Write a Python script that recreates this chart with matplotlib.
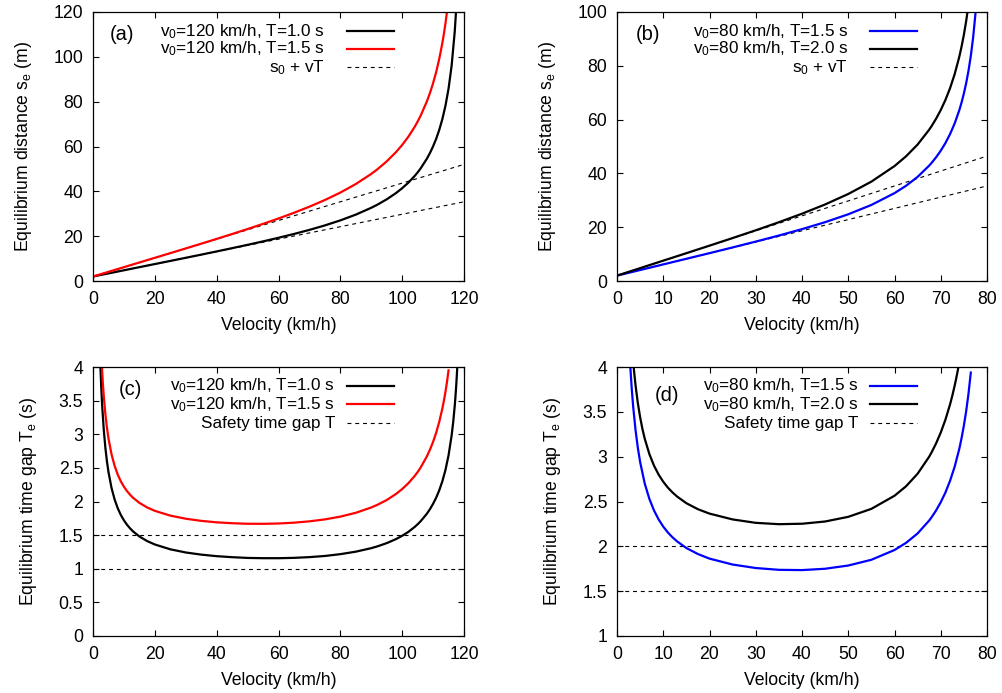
import matplotlib
matplotlib.use('Agg')
import matplotlib.pyplot as plt

plt.rcParams['font.family'] = ['Liberation Sans', 'DejaVu Sans']
plt.rcParams['mathtext.default'] = 'regular'
plt.rcParams['font.size'] = 12.7

# (a) v0=120 km/h, equilibrium distance (m)
v_a1 = [0, 5, 10, 15, 20, 25, 30, 35, 40, 45, 50, 55, 60, 65, 70, 75, 80, 85, 90,
        92, 95, 98, 100, 102, 104, 105, 106, 108, 109, 110, 111, 112, 113, 114, 115, 116, 117, 117.5]
s_a1 = [2.0, 3.39, 4.78, 6.17, 7.56, 8.95, 10.35, 11.76, 13.19, 14.65, 16.13, 17.67, 19.28, 20.98,
        22.80, 24.80, 27.04, 29.61, 32.66,
        34.06, 36.43, 39.22, 41.39, 43.87, 46.79, 48.45, 50.28, 54.57, 57.13, 60.06, 63.43, 67.42,
        72.23, 78.17, 85.79, 96.10, 111.17, 121.9]
v_a2 = [0, 5, 10, 15, 20, 25, 30, 35, 40, 45, 50, 55, 60, 65, 70, 75, 80, 85, 90,
        92, 95, 98, 100, 102, 104, 105, 106, 108, 109, 110, 111, 112, 113, 113.5, 114, 114.5]
s_a2 = [2.0, 4.08, 6.17, 8.25, 10.34, 12.43, 14.53, 16.64, 18.78, 20.96, 23.18, 25.49, 27.89, 30.42,
        33.15, 36.12, 39.44, 43.26, 47.77,
        49.85, 53.36, 57.49, 60.69, 64.36, 68.67, 71.12, 73.82, 80.15, 83.92, 88.23, 93.22, 99.11,
        106.18, 110.31, 114.93, 120.17]
lin_a_v = [0, 120]
lin_a1 = [2.0, 35.33]
lin_a2 = [2.0, 52.0]

# (b) v0=80 km/h
v_b1 = [0, 5, 10, 15, 20, 25, 30, 35, 40, 45, 50, 55, 60, 62.5, 65, 67.5, 68, 69, 70, 71, 72, 73,
        74, 74.5, 75, 75.5, 76, 76.5, 77, 77.5, 78]
s_b1 = [2.0, 4.08, 6.17, 8.26, 10.35, 12.48, 14.65, 16.90, 19.28, 21.87, 24.80, 28.27, 32.66, 35.40,
        38.72, 42.90, 43.87, 46.01, 48.45, 51.26, 54.57, 58.54, 63.43, 66.36, 69.71, 73.59, 78.17,
        83.69, 90.52, 99.30, 111.17]
v_b2 = [0, 5, 10, 15, 20, 25, 30, 35, 40, 45, 50, 55, 60, 62.5, 65, 67.5, 68, 69, 70, 71, 72, 73,
        74, 74.5, 75, 75.5, 76]
s_b2 = [2.0, 4.78, 7.56, 10.34, 13.14, 15.97, 18.85, 21.85, 25.02, 28.46, 32.35, 36.94, 42.73, 46.36,
        50.74, 56.25, 57.53, 60.35, 63.56, 67.27, 71.62, 76.85, 83.29, 87.14, 91.55, 96.65, 102.67]
lin_b_v = [0, 80]
lin_b1 = [2.0, 35.33]
lin_b2 = [2.0, 46.44]

# (c) v0=120 km/h, equilibrium time gap (s)
v_c1 = [2.4, 2.7, 3, 3.5, 4, 4.5, 5, 6, 7, 8, 9, 10, 11, 12, 13, 15, 17.5, 20, 25, 30, 35, 40, 45,
        50, 55, 60, 65, 70, 75, 80, 85, 90, 92, 95, 98, 100, 102, 104, 105, 106, 108, 109, 110, 111,
        112, 113, 114, 115, 116, 116.5, 117, 117.2, 117.5, 117.8]
t_c1 = [4.0, 3.667, 3.4, 3.057, 2.8, 2.6, 2.44, 2.2, 2.029, 1.9, 1.8, 1.72, 1.6545, 1.6, 1.5538,
        1.48, 1.4117, 1.361, 1.289, 1.242, 1.210, 1.187, 1.172, 1.161, 1.157, 1.157, 1.162, 1.173,
        1.190, 1.217, 1.254, 1.306, 1.333, 1.381, 1.441, 1.490, 1.548, 1.620, 1.661, 1.708, 1.819,
        1.887, 1.966, 2.057, 2.167, 2.301, 2.469, 2.686, 2.982, 3.178, 3.421, 3.536, 3.735, 3.973]
v_c2 = [2.88, 3.2, 3.5, 4, 4.5, 5, 6, 7, 8, 9, 10, 11, 12, 13, 15, 17.5, 20, 25, 30, 35, 40, 45, 50,
        55, 60, 65, 70, 75, 80, 85, 90, 92, 95, 98, 100, 102, 104, 105, 106, 108, 109, 110, 111, 112,
        113, 113.5, 114, 114.5, 115]
t_c2 = [4.0, 3.75, 3.557, 3.3, 3.1, 2.94, 2.7, 2.529, 2.4, 2.3, 2.22, 2.1545, 2.1, 2.0538, 1.98,
        1.912, 1.861, 1.790, 1.744, 1.712, 1.690, 1.677, 1.669, 1.668, 1.673, 1.685, 1.705, 1.734,
        1.775, 1.832, 1.911, 1.951, 2.022, 2.112, 2.185, 2.272, 2.377, 2.438, 2.507, 2.672, 2.772,
        2.887, 3.023, 3.186, 3.383, 3.499, 3.629, 3.778, 3.950]
T_c = [1.0, 1.5]

# (d) v0=80 km/h
v_d1 = [2.88, 3.2, 3.5, 4, 4.5, 5, 6, 7, 8, 9, 10, 11, 12, 13, 15, 17.5, 20, 25, 30, 35, 40, 45, 50,
        55, 60, 62.5, 65, 67.5, 68, 69, 70, 71, 72, 73, 74, 74.5, 75, 75.5, 76, 76.5]
t_d1 = [4.0, 3.75, 3.557, 3.3, 3.1, 2.94, 2.7, 2.529, 2.4, 2.3, 2.22, 2.1545, 2.1005, 2.055, 1.981,
        1.914, 1.863, 1.797, 1.758, 1.738, 1.735, 1.750, 1.786, 1.850, 1.959, 2.039, 2.144, 2.288,
        2.323, 2.401, 2.492, 2.599, 2.729, 2.887, 3.085, 3.207, 3.346, 3.509, 3.703, 3.938]
v_d2 = [3.6, 4, 4.5, 5, 5.5, 6, 7, 8, 9, 10, 11, 12, 13, 15, 17.5, 20, 25, 30, 35, 40, 45, 50, 55,
        60, 62.5, 65, 67.5, 68, 69, 70, 71, 72, 72.5, 73, 73.4, 73.8]
t_d2 = [4.0, 3.8, 3.6, 3.44, 3.309, 3.2, 3.029, 2.9, 2.8, 2.72, 2.655, 2.601, 2.555, 2.481, 2.414,
        2.365, 2.300, 2.262, 2.247, 2.252, 2.277, 2.329, 2.418, 2.564, 2.670, 2.810, 3.0, 3.046,
        3.149, 3.269, 3.411, 3.581, 3.680, 3.790, 3.887, 3.994]
T_d = [1.5, 2.0]

fig = plt.figure(figsize=(10.02, 6.93), dpi=100)
W, H = 1002, 693
FS = 12.7
LFS = 12.3


def make_ax(l, r, t, b):
    ax = fig.add_axes([l / W, 1 - b / H, (r - l) / W, (b - t) / H])
    ax.tick_params(direction='in', top=True, right=True, length=4.5, width=0.8, labelsize=FS)
    ax.tick_params(axis='x', pad=7.5)
    ax.tick_params(axis='y', pad=7)
    for sp in ax.spines.values():
        sp.set_linewidth(0.9)
    return ax


def labels(ax, ylab):
    ax.set_xlabel('Velocity (km/h)', fontsize=FS, labelpad=6)
    ax.set_ylabel(ylab, fontsize=FS, labelpad=14)


def legend(ax, tag, tagpos, entries, xr, ys):
    ax.text(tagpos[0], tagpos[1], tag, transform=ax.transAxes, ha='center', va='center', fontsize=14.5)
    for (txt, col, ls, lw), y in zip(entries, ys):
        ax.text(xr, y, txt, transform=ax.transAxes, ha='right', va='center', fontsize=LFS)
        ax.plot([0.685, 0.81], [y, y], transform=ax.transAxes, color=col, ls=ls, lw=lw,
                clip_on=False)


dash = (0, (3.5, 3.5))

ax = make_ax(93, 464, 12, 281)
ax.plot(lin_a_v, lin_a1, color='black', lw=0.8, ls=dash)
ax.plot(lin_a_v, lin_a2, color='black', lw=0.8, ls=dash)
ax.plot(v_a1, s_a1, color='black', lw=1.6)
ax.plot(v_a2, s_a2, color='red', lw=1.6)
ax.set_xlim(0, 120)
ax.set_ylim(0, 120)
ax.set_xticks(range(0, 121, 20))
ax.set_yticks(range(0, 121, 20))
labels(ax, 'Equilibrium distance s$_e$ (m)')
legend(ax, '(a)', (0.078, 0.918),
       [('v$_0$=120 km/h, T=1.0 s', 'black', '-', 1.6),
        ('v$_0$=120 km/h, T=1.5 s', 'red', '-', 1.6),
        ('s$_0$ + vT', 'black', dash, 0.8)],
       0.625, [0.928, 0.862, 0.794])

ax = make_ax(617, 987, 12, 281)
ax.plot(lin_b_v, lin_b1, color='black', lw=0.8, ls=dash)
ax.plot(lin_b_v, lin_b2, color='black', lw=0.8, ls=dash)
ax.plot(v_b1, s_b1, color='blue', lw=1.6)
ax.plot(v_b2, s_b2, color='black', lw=1.6)
ax.set_xlim(0, 80)
ax.set_ylim(0, 100)
ax.set_xticks(range(0, 81, 10))
ax.set_yticks(range(0, 101, 20))
labels(ax, 'Equilibrium distance s$_e$ (m)')
legend(ax, '(b)', (0.083, 0.918),
       [('v$_0$=80 km/h, T=1.5 s', 'blue', '-', 1.6),
        ('v$_0$=80 km/h, T=2.0 s', 'black', '-', 1.6),
        ('s$_0$ + vT', 'black', dash, 0.8)],
       0.625, [0.928, 0.862, 0.794])

ax = make_ax(93, 464, 367, 636)
for T in T_c:
    ax.plot([0, 120], [T, T], color='black', lw=0.8, ls=dash)
ax.plot(v_c1, t_c1, color='black', lw=1.6)
ax.plot(v_c2, t_c2, color='red', lw=1.6)
ax.set_xlim(0, 120)
ax.set_ylim(0, 4)
ax.set_xticks(range(0, 121, 20))
ax.set_yticks([0, 0.5, 1, 1.5, 2, 2.5, 3, 3.5, 4])
ax.set_yticklabels(['0', '0.5', '1', '1.5', '2', '2.5', '3', '3.5', '4'])
labels(ax, 'Equilibrium time gap T$_e$ (s)')
legend(ax, '(c)', (0.1, 0.915),
       [('v$_0$=120 km/h, T=1.0 s', 'black', '-', 1.6),
        ('v$_0$=120 km/h, T=1.5 s', 'red', '-', 1.6),
        ('Safety time gap T', 'black', dash, 0.8)],
       0.652, [0.931, 0.861, 0.791])

ax = make_ax(617, 987, 367, 636)
for T in T_d:
    ax.plot([0, 80], [T, T], color='black', lw=0.8, ls=dash)
ax.plot(v_d1, t_d1, color='blue', lw=1.6)
ax.plot(v_d2, t_d2, color='black', lw=1.6)
ax.set_xlim(0, 80)
ax.set_ylim(1, 4)
ax.set_xticks(range(0, 81, 10))
ax.set_yticks([1, 1.5, 2, 2.5, 3, 3.5, 4])
ax.set_yticklabels(['1', '1.5', '2', '2.5', '3', '3.5', '4'])
labels(ax, 'Equilibrium time gap T$_e$ (s)')
legend(ax, '(d)', (0.134, 0.895),
       [('v$_0$=80 km/h, T=1.5 s', 'blue', '-', 1.6),
        ('v$_0$=80 km/h, T=2.0 s', 'black', '-', 1.6),
        ('Safety time gap T', 'black', dash, 0.8)],
       0.652, [0.931, 0.861, 0.791])

fig.savefig('out.png', dpi=100)
